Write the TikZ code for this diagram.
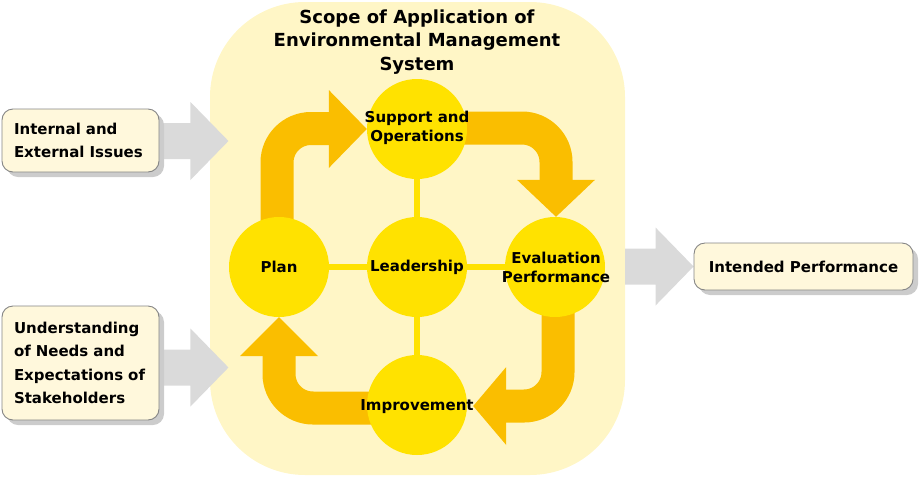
\documentclass[tikz,border=0pt]{standalone}
\usepackage{fontspec}
\setmainfont{DejaVu Sans}
\usetikzlibrary{calc,shadows}
\pgfdeclarelayer{back}
\pgfdeclarelayer{mid}
\pgfsetlayers{back,mid,main}
\definecolor{scopeY}{HTML}{FFF6C6}
\definecolor{circY}{HTML}{FFE200}
\definecolor{arrO}{HTML}{FABE00}
\definecolor{boxF}{HTML}{FFF8DC}
\definecolor{boxB}{HTML}{858585}
\definecolor{grayA}{HTML}{DADADA}
\definecolor{shadowG}{HTML}{CCCCCC}
\newcommand\grayarrow[2]{%
  \fill[grayA] ($(#1)+(0,-18)$) -- ($(#2)+(-38,-18)$) -- ($(#2)+(-38,-39)$) --
    (#2) -- ($(#2)+(-38,39)$) -- ($(#2)+(-38,18)$) -- ($(#1)+(0,18)$) -- cycle;}
\begin{document}
\begin{tikzpicture}[x=1pt,y=-1pt,
  yc/.style={circle, fill=circY, minimum size=100pt, inner sep=0pt},
  clab/.style={font=\bfseries\fontsize{15}{19}\selectfont, align=center, inner sep=0pt},
  infobox/.style={draw=boxB, line width=0.9pt, fill=boxF, rounded corners=11pt,
    drop shadow={shadow xshift=5pt, shadow yshift=-5pt, fill=shadowG, opacity=1},
    font=\bfseries\fontsize{15}{23.5}\selectfont, inner sep=0pt},
  body/.style={draw=arrO, line width=33pt, rounded corners=34pt},
  link/.style={draw=circY, line width=6pt}]
\useasboundingbox (0,0) rectangle (920,477);

% scope
\begin{pgfonlayer}{back}
\node[fill=scopeY, rounded corners=95pt, minimum width=415pt, minimum height=473pt, inner sep=0pt] (scope) at (417.5,238.5) {};
\end{pgfonlayer}
\node[font=\bfseries\fontsize{18}{23.5}\selectfont, align=center, inner sep=0pt] (title) at (417,42)
  {Scope of Application of\\Environmental Management\\System};

% circles
\node[yc] (sup) at (417,129) {};
\node[yc] (lead) at (417,267) {};
\node[yc] (plan) at (279,267) {};
\node[yc] (eval) at (555,267) {};
\node[yc] (imp) at (417,405) {};
\node[clab] (supT) at (417,128) {Support and\\Operations};
\node[clab] (leadT) at (417,267) {Leadership};
\node[clab] (planT) at (279,267) {Plan};
\node[clab] (evalT) at (556,267) {Evaluation\\Performance};
\node[clab] (impT) at (417,407) {Improvement};

% boxes
\node[infobox, minimum width=157pt, minimum height=63pt, text width=133pt, align=left] (in1) at (80.5,140.5)
  {Internal and\\External Issues};
\node[infobox, minimum width=157pt, minimum height=114pt, text width=133pt, align=left] (in2) at (80.5,363)
  {Understanding\\of Needs and\\Expectations of\\Stakeholders};
\node[infobox, minimum width=219pt, minimum height=47pt, align=center] (outp) at (803.5,266.5)
  {Intended Performance};

\coordinate (g1s) at ($(in1.east)+(-6,0.5)$);
\coordinate (g1t) at ($(in1.east)+(69,0.5)$);
\coordinate (g2s) at ($(in2.east)+(-6,4.5)$);
\coordinate (g2t) at ($(in2.east)+(69,4.5)$);
\coordinate (g3s) at (scope.east |- outp.west);
\coordinate (g3t) at (outp.west);

\begin{pgfonlayer}{mid}
  \grayarrow{g1s}{g1t}
  \grayarrow{g2s}{g2t}
  \grayarrow{g3s}{g3t}
  % links
  \draw[link] (sup) -- (lead);
  \draw[link] (lead) -- (imp);
  \draw[link] (plan) -- (lead);
  \draw[link] (lead) -- (eval);
  % orange cycle arrows
  \draw[body] ($(plan.center)+(-2,0)$) |- ($(sup.west)+(-37,-0.5)$);
  \fill[arrO] (sup.west) -- ++(-38,-39) -- ++(0,78) -- cycle;
  \draw[body] ($(sup.center)+(0,-1)$) -| ($(eval.north)+(1,-36)$);
  \fill[arrO] ($(eval.north)+(1,0)$) -- ++(-39,-37) -- ++(78,0) -- cycle;
  \draw[body] ($(eval.center)+(3,0)$) |- ($(imp.east)+(38,1)$);
  \fill[arrO] ($(imp.east)+(6,1)$) -- ++(33,-39) -- ++(0,78) -- cycle;
  \draw[body] ($(imp.center)+(0,3)$) -| ($(plan.south)+(0,38)$);
  \fill[arrO] (plan.south) -- ++(-39,39) -- ++(78,0) -- cycle;
\end{pgfonlayer}
\end{tikzpicture}
\end{document}
